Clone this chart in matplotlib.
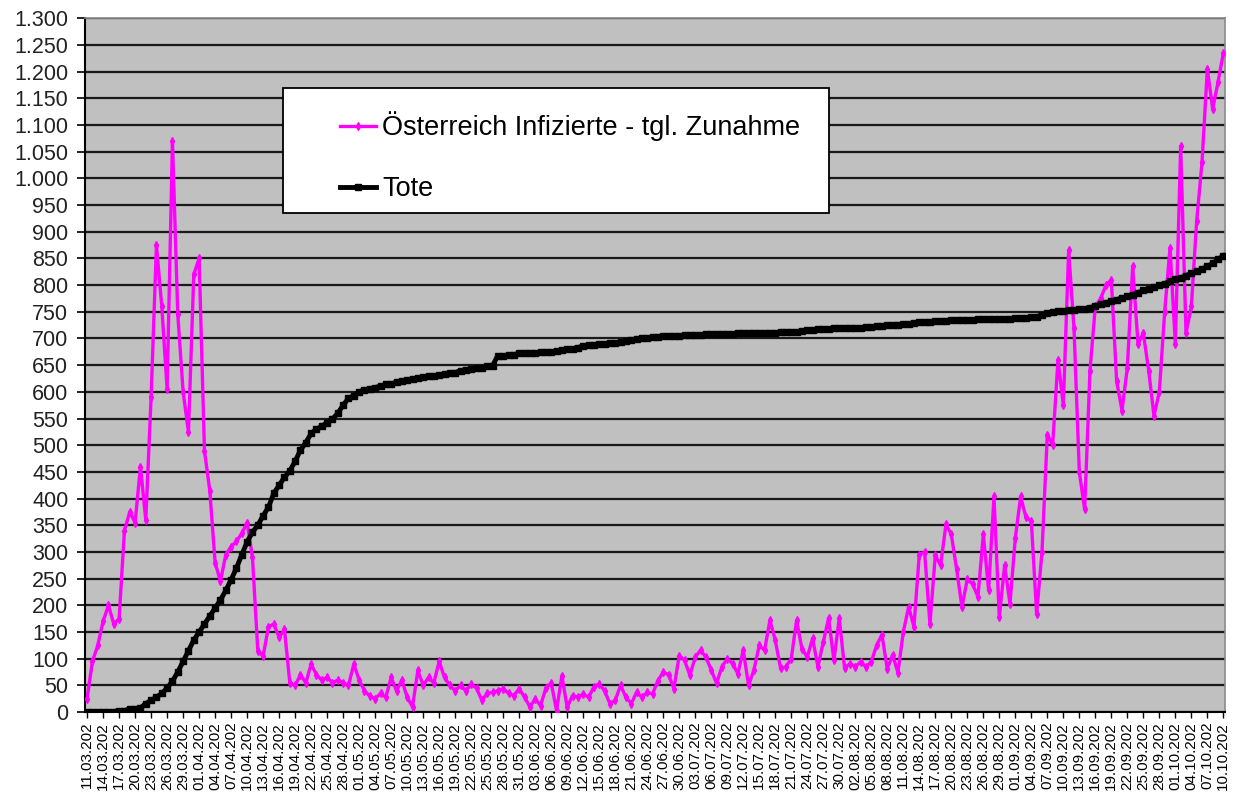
import numpy as np
import pandas as pd
import matplotlib as mpl
import matplotlib.pyplot as plt
from matplotlib.patches import Rectangle
from matplotlib.ticker import FuncFormatter

mpl.rcParams['font.family'] = ['Liberation Sans', 'DejaVu Sans']

# daily values 11.03.2020 - 10.10.2020
dates = pd.date_range('2020-03-11', '2020-10-10', freq='D')
date_labels = list(dates.strftime('%d.%m.202'))

infected = [
    25, 95, 125, 170, 200, 165, 175, 340, 375, 355,
    460, 360, 590, 875, 760, 605, 1070, 745, 600, 525,
    820, 850, 490, 415, 280, 245, 295, 310, 320, 335,
    355, 290, 115, 105, 160, 165, 140, 155, 55, 50,
    70, 55, 90, 70, 60, 65, 55, 60, 55, 50,
    90, 60, 40, 30, 25, 35, 28, 65, 40, 60,
    28, 10, 78, 50, 65, 55, 95, 65, 50, 40,
    50, 40, 52, 45, 22, 35, 37, 40, 44, 35,
    31, 44, 28, 10, 25, 12, 45, 55, 3, 68,
    9, 31, 28, 34, 28, 47, 53, 40, 16, 22,
    50, 28, 16, 37, 28, 37, 34, 59, 75, 70,
    44, 106, 97, 69, 103, 116, 103, 79, 54, 85,
    100, 91, 72, 116, 50, 79, 125, 116, 172, 135,
    82, 85, 100, 172, 119, 103, 138, 85, 131, 176,
    97, 176, 82, 91, 85, 94, 85, 94, 125, 145,
    81, 107, 74, 150, 197, 160, 295, 300, 165, 294,
    275, 352, 333, 268, 197, 249, 240, 216, 333, 229,
    404, 178, 275, 203, 326, 404, 365, 358, 184, 300,
    520, 500, 660, 575, 865, 720, 450, 380, 640, 760,
    775, 800, 810, 620, 565, 645, 835, 690, 710, 640,
    555, 600, 750, 870, 690, 1060, 710, 760, 920, 1030,
    1205, 1130, 1180, 1235,
]

deaths = [
    1, 1, 1, 1, 1, 1, 3, 3, 6, 6,
    8, 16, 22, 28, 35, 45, 58, 75, 95, 115,
    135, 150, 165, 180, 195, 210, 228, 248, 270, 295,
    319, 337, 350, 368, 384, 410, 425, 440, 452, 470,
    491, 505, 522, 530, 536, 542, 549, 560, 575, 588,
    593, 600, 604, 606, 608, 611, 614, 615, 618, 620,
    623, 624, 626, 628, 629, 630, 632, 633, 635, 636,
    640, 641, 643, 645, 645, 648, 649, 668, 668, 669,
    670, 672, 672, 673, 673, 674, 674, 675, 677, 678,
    680, 681, 683, 686, 687, 688, 690, 690, 691, 692,
    693, 695, 697, 699, 700, 701, 702, 703, 704, 704,
    705, 705, 706, 706, 706, 707, 708, 708, 708, 708,
    709, 709, 710, 710, 710, 711, 711, 711, 711, 711,
    712, 712, 713, 713, 714, 715, 716, 718, 718, 718,
    719, 719, 719, 719, 720, 720, 721, 722, 723, 724,
    725, 725, 726, 727, 728, 729, 730, 730, 731, 732,
    733, 733, 734, 734, 735, 735, 735, 736, 736, 736,
    736, 737, 737, 737, 738, 738, 739, 740, 741, 744,
    748, 750, 751, 752, 753, 754, 755, 756, 758, 761,
    764, 767, 770, 773, 776, 779, 782, 786, 790, 793,
    796, 800, 803, 807, 811, 814, 818, 822, 826, 830,
    835, 841, 848, 855,
]

x = np.arange(len(dates))

fig = plt.figure(figsize=(12.35, 7.93), dpi=100)
ax = fig.add_axes([0.0688, 0.102, 0.9235, 0.875])
ax.set_facecolor('#c0c0c0')

ax.plot(x, infected, color='#ff00ff', lw=2.4, marker='d', markersize=4,
        zorder=3, label='Österreich Infizierte - tgl. Zunahme')
ax.plot(x, deaths, color='black', lw=3.5, marker='s', markersize=5,
        zorder=4, label='Tote')

ax.set_ylim(0, 1300)
ax.set_xlim(-0.4, len(dates) - 0.6)
ax.set_yticks(np.arange(0, 1301, 50))
ax.yaxis.set_major_formatter(FuncFormatter(lambda v, p: f'{int(v):,}'.replace(',', '.')))
ax.yaxis.grid(True, color='#1a1a1a', lw=1.6)
ax.set_axisbelow(True)

ax.set_xticks(x[::3])
ax.set_xticklabels(date_labels[::3], rotation=90, fontsize=11)
ax.tick_params(axis='y', labelsize=15.5, labelcolor='#222222', length=6, width=1.2, pad=6)
ax.tick_params(axis='x', length=4, width=1, pad=3)

for s in ['left', 'bottom']:
    ax.spines[s].set_color('black')
    ax.spines[s].set_linewidth(1.5)
for s in ['top', 'right']:
    ax.spines[s].set_color('#8a8a8a')
    ax.spines[s].set_linewidth(1.2)

# legend box
ax.add_patch(Rectangle((0.174, 0.719), 0.478, 0.18, transform=ax.transAxes,
                       facecolor='white', edgecolor='black', lw=1.3, zorder=5))
leg = ax.legend(loc='upper left', bbox_to_anchor=(0.224, 0.866), frameon=False,
                fontsize=19.5, borderpad=0, handlelength=1.33, handletextpad=0.22,
                labelspacing=1.3, borderaxespad=0)
leg.set_zorder(6)

fig.savefig('out.png', dpi=100)
